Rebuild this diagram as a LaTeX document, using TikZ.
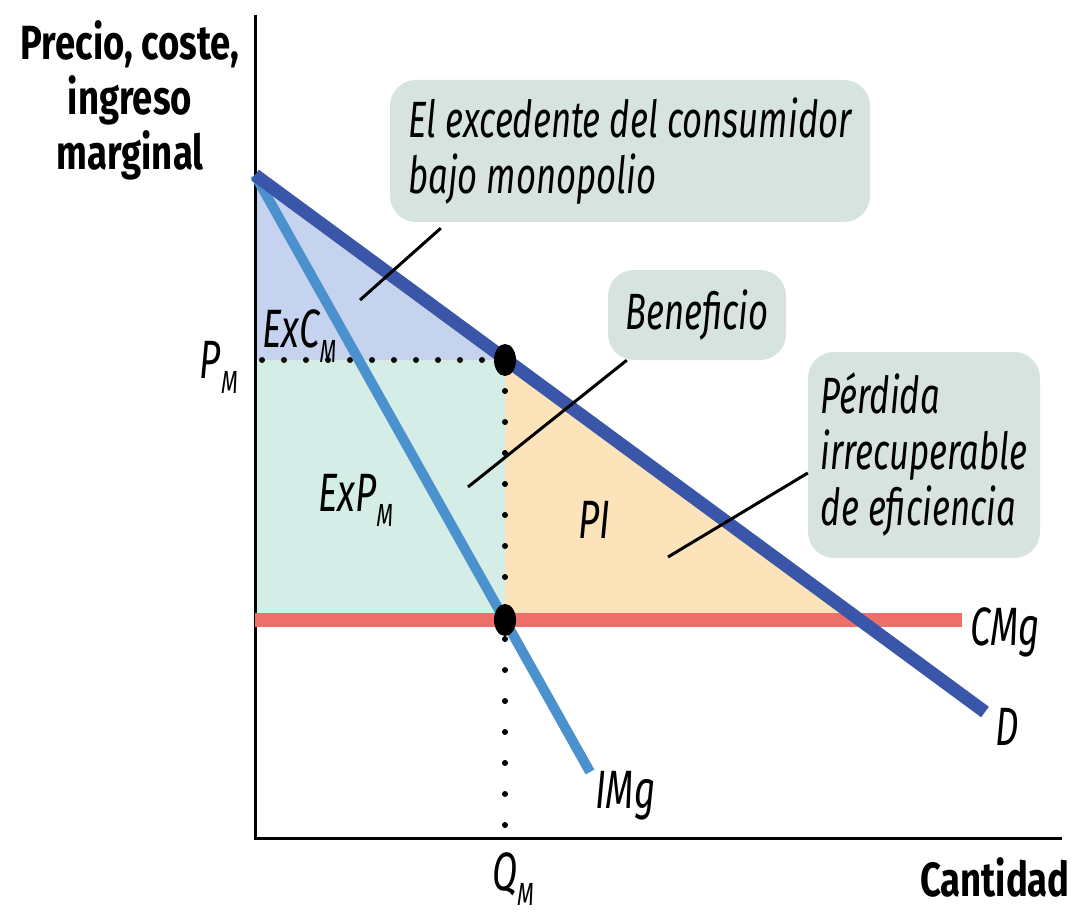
\documentclass[tikz,border=0pt]{standalone}
\usepackage{fontspec}
\setmainfont{Fira Sans}
\newfontfamily\labfont[FakeStretch=0.68]{Fira Sans}
\newfontfamily\axfont[FakeStretch=0.76]{Fira Sans}
\definecolor{exccol}{RGB}{197,211,238}
\definecolor{expcol}{RGB}{212,237,230}
\definecolor{picol}{RGB}{253,227,185}
\definecolor{boxcol}{RGB}{214,227,223}
\definecolor{dcol}{RGB}{58,86,168}
\definecolor{imgcol}{RGB}{74,145,206}
\definecolor{cmgcol}{RGB}{238,110,106}
\newcommand{\lsub}[1]{\raisebox{-0.28em}{\fontsize{32}{32}\selectfont #1}}
\tikzset{
  itlab/.style={font=\labfont\itshape\fontsize{54}{58}\selectfont, inner sep=0pt},
  axlab/.style={font=\axfont\bfseries\fontsize{48}{55}\selectfont, inner sep=0pt},
  callout/.style={fill=boxcol, rounded corners=26pt, inner sep=0pt, align=left,
    font=\labfont\itshape\fontsize{51}{56}\selectfont},
  leader/.style={line width=3pt, black},
  eqdot/.style={ellipse, fill=black, minimum width=22pt, minimum height=32pt, inner sep=0pt},
}
\usetikzlibrary{shapes.geometric}
\begin{document}
\begin{tikzpicture}[x=1pt,y=-1pt]
\useasboundingbox (0,0) rectangle (1076,912);
% key points
\coordinate (top) at (255,175);
\coordinate (pmax) at (255,360);
\coordinate (eM) at (505,360);
\coordinate (cM) at (505,620);
\coordinate (cmax) at (255,620);
\coordinate (dc) at (859,620);
\coordinate (dend) at (985,712);
\coordinate (iend) at (590,772);
\coordinate (cend) at (962,620);
\coordinate (qax) at (505,838);
\coordinate (orig) at (255,838);
\coordinate (ytop) at (255,15);
\coordinate (xend) at (1062,838);
% areas
\fill[exccol] (top) -- (eM) -- (pmax) -- cycle;
\fill[expcol] (pmax) rectangle (cM);
\fill[picol] (eM) -- (dc) -- (cM) -- cycle;
% axes
\draw[line width=3pt] (ytop) -- (orig) -- (xend);
% dotted guides
\draw[line width=6pt, line cap=round, dash pattern=on 0pt off 22pt] (pmax) ++(7,0) -- (eM);
\draw[line width=6pt, line cap=round, dash pattern=on 0pt off 31pt] (eM) -- (qax);
% curves
\draw[cmgcol, line width=14pt] (cmax) -- (cend);
\draw[imgcol, line width=10pt] (top) -- (iend);
\draw[dcol, line width=13pt] (top) -- (dend);
% equilibrium dots
\node[eqdot] (dotA) at (eM) {};
\node[eqdot] (dotB) at (cM) {};
% axis labels
\node[axlab, align=center] (ylab) at (130,100) {Precio, coste,\\ingreso\\marginal};
\node[axlab, anchor=base east] (xlab) at (1070,896) {Cantidad};
\node[itlab, anchor=base east] (pm) at (238,378) {P\lsub{M}};
\node[itlab, anchor=base] (qm) at (513,890) {Q\lsub{M}};
\node[itlab, anchor=base west] (excl) at (262,347) {ExC\lsub{M}};
\node[itlab, anchor=base west] (expl) at (318,511) {ExP\lsub{M}};
\node[itlab, anchor=base west] (pil) at (578,538) {PI};
\node[itlab, anchor=base west] (cmgl) at (970,645) {CMg};
\node[itlab, anchor=base west] (dl) at (995,745) {D};
\node[itlab, anchor=base west] (imgl) at (595,808) {IMg};
% callouts
\node[callout, minimum width=480pt, minimum height=142pt] (b1) at (630,151)
  {El excedente del consumidor\\bajo monopolio};
\node[callout, minimum width=178pt, minimum height=90pt, align=center] (b2) at (697,315) {Beneficio};
\node[callout, minimum width=232pt, minimum height=206pt] (b3) at (924,455)
  {Pérdida\\irrecuperable\\de eficiencia};
% leaders
\coordinate (t1) at (360,300);
\coordinate (t2) at (468,487);
\coordinate (t3) at (668,557);
\draw[leader] (b1.south west) ++(51,6) coordinate (s1) -- (t1);
\draw[leader] (b2.south west) ++(19,0) coordinate (s2) -- (t2);
\draw[leader] (b3.west) ++(0,18) coordinate (s3) -- (t3);
\end{tikzpicture}
\end{document}
